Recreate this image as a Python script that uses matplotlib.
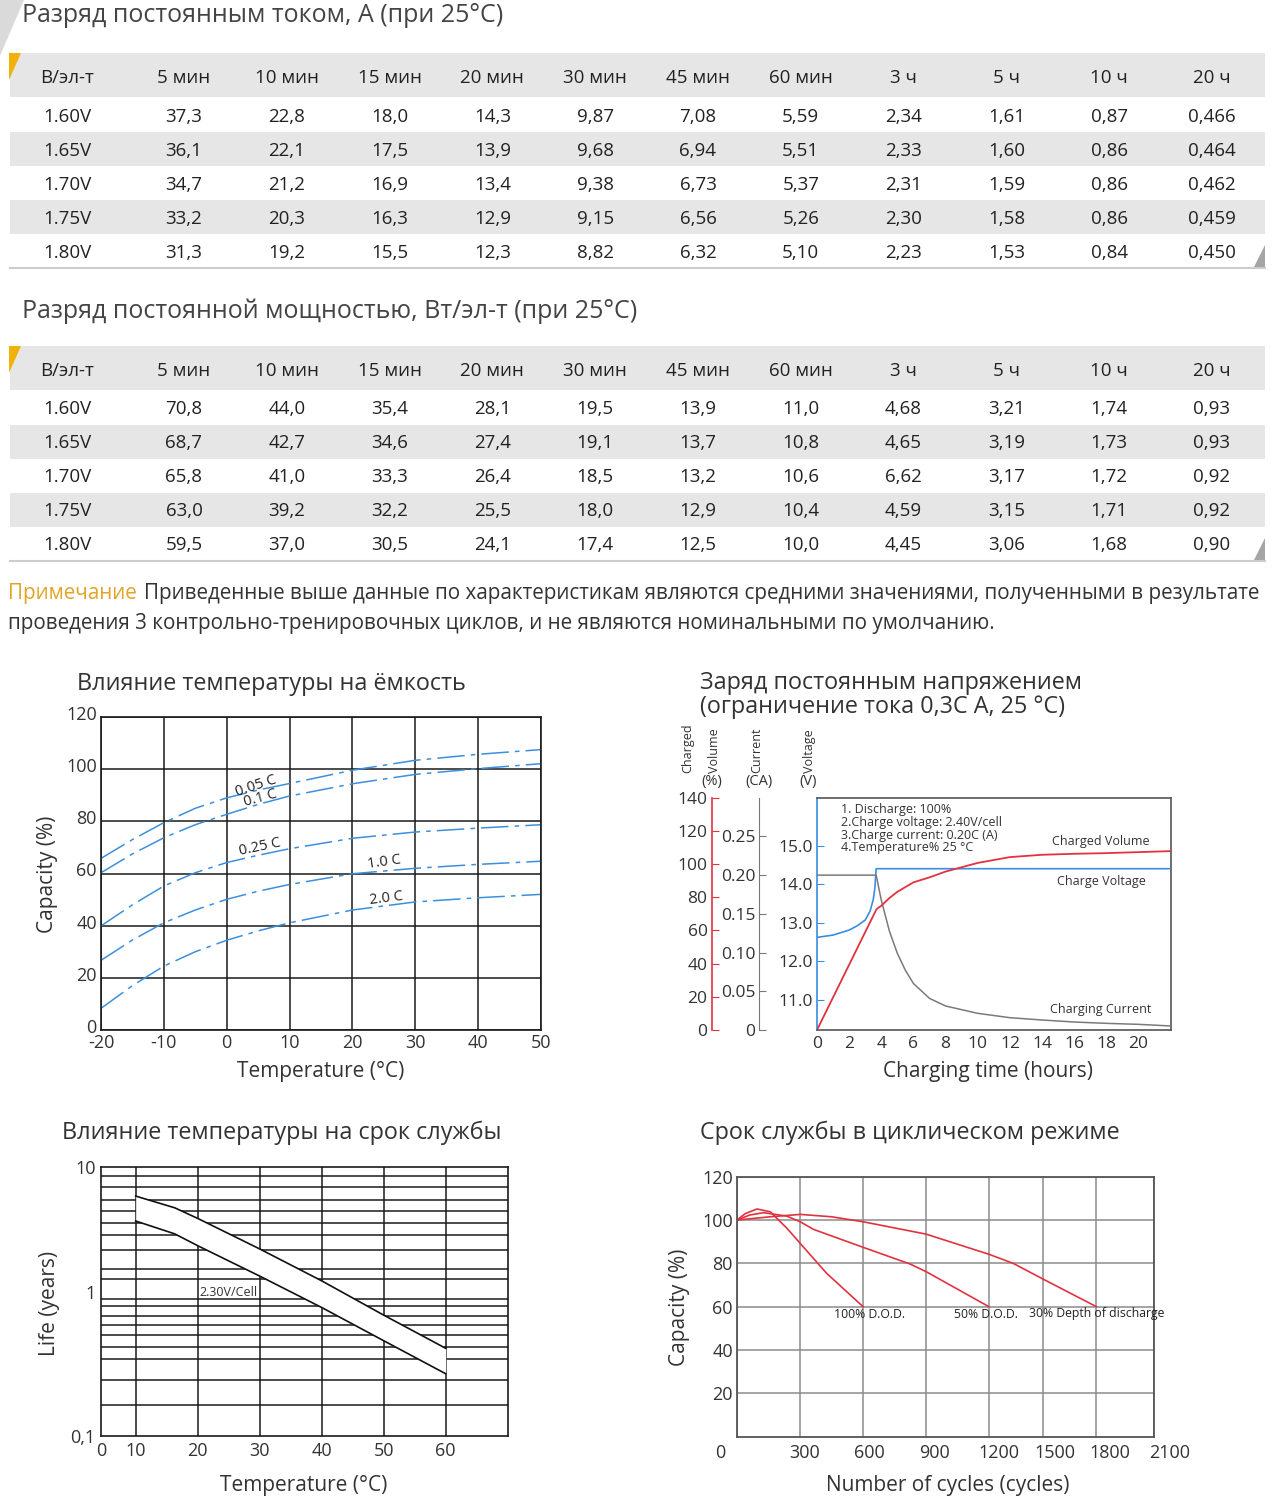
import matplotlib
matplotlib.use('Agg')
import matplotlib.pyplot as plt
import matplotlib.transforms as mtransforms
from matplotlib.patches import Rectangle, Polygon
import numpy as np

plt.rcParams['font.family'] = ['Open Sans', 'DejaVu Sans']
plt.rcParams['axes.unicode_minus'] = False

W, H = 1280, 1511

# ---------------- data ----------------
columns = ['В/эл-т', '5 мин', '10 мин', '15 мин', '20 мин', '30 мин', '45 мин',
           '60 мин', '3 ч', '5 ч', '10 ч', '20 ч']
voltages = ['1.60V', '1.65V', '1.70V', '1.75V', '1.80V']

current_rows = [
    ['37,3', '22,8', '18,0', '14,3', '9,87', '7,08', '5,59', '2,34', '1,61', '0,87', '0,466'],
    ['36,1', '22,1', '17,5', '13,9', '9,68', '6,94', '5,51', '2,33', '1,60', '0,86', '0,464'],
    ['34,7', '21,2', '16,9', '13,4', '9,38', '6,73', '5,37', '2,31', '1,59', '0,86', '0,462'],
    ['33,2', '20,3', '16,3', '12,9', '9,15', '6,56', '5,26', '2,30', '1,58', '0,86', '0,459'],
    ['31,3', '19,2', '15,5', '12,3', '8,82', '6,32', '5,10', '2,23', '1,53', '0,84', '0,450'],
]
power_rows = [
    ['70,8', '44,0', '35,4', '28,1', '19,5', '13,9', '11,0', '4,68', '3,21', '1,74', '0,93'],
    ['68,7', '42,7', '34,6', '27,4', '19,1', '13,7', '10,8', '4,65', '3,19', '1,73', '0,93'],
    ['65,8', '41,0', '33,3', '26,4', '18,5', '13,2', '10,6', '6,62', '3,17', '1,72', '0,92'],
    ['63,0', '39,2', '32,2', '25,5', '18,0', '12,9', '10,4', '4,59', '3,15', '1,71', '0,92'],
    ['59,5', '37,0', '30,5', '24,1', '17,4', '12,5', '10,0', '4,45', '3,06', '1,68', '0,90'],
]

# capacity vs temperature
temp = [-20, -15, -10, -5, 0, 5, 10, 20, 30, 40, 50]
cap_rates = ['0.05 C', '0.1 C', '0.25 C', '1.0 C', '2.0 C']
cap_005 = [65.8, 73.0, 79.5, 85.0, 89.0, 92.0, 94.5, 99.6, 103.4, 105.7, 107.5]
cap_01 = [60.3, 67.5, 73.7, 78.7, 82.7, 86.5, 89.7, 94.4, 98.0, 100.2, 102.1]
cap_025 = [39.9, 48.0, 55.2, 60.3, 64.2, 67.0, 69.5, 73.5, 75.9, 77.4, 78.7]
cap_10 = [26.7, 34.5, 41.1, 46.0, 50.1, 53.2, 55.8, 59.9, 62.0, 63.5, 64.7]
cap_20 = [8.3, 17.0, 24.5, 30.0, 34.4, 38.0, 41.1, 46.0, 49.1, 50.7, 52.0]

# constant voltage charge
volt_t = [0, 1, 2, 2.5, 3, 3.3, 3.5, 3.6, 3.68, 22]
volt_v = [12.62, 12.68, 12.81, 12.92, 13.07, 13.3, 13.6, 13.9, 14.4, 14.4]
cur_t = [0, 3.68, 4.0, 4.5, 5, 5.5, 6, 7, 8, 10, 12, 14, 16, 18, 20, 22]
cur_a = [0.2, 0.2, 0.1675, 0.128, 0.0988, 0.077, 0.060, 0.0408, 0.031, 0.0215,
         0.0159, 0.0129, 0.0103, 0.0086, 0.0073, 0.0052]
vol_t = [0, 3.7, 4, 4.5, 5, 6, 7, 8, 9, 10, 12, 14, 16, 18, 20, 22]
vol_p = [0, 72.8, 74.9, 79.5, 83.3, 89.0, 92.0, 95.5, 98.1, 100.7, 104.2, 105.6,
         106.2, 106.6, 107.2, 107.8]
charge_notes = ['1. Discharge: 100%', '2.Charge voltage: 2.40V/cell',
                '3.Charge current: 0.20C (A)', '4.Temperature% 25 °C']

# life vs temperature
life_t = [10, 16.3, 20, 30, 40, 50, 60]
life_hi = [6.05, 4.95, 4.13, 2.45, 1.42, 0.79, 0.448]
life_lo = [3.95, 3.17, 2.59, 1.54, 0.90, 0.51, 0.29]
life_grid = [8.5, 7.1, 5.7, 4.7, 3.8, 3.1, 2.4, 1.74, 1.46, 1.04, 0.92, 0.78,
             0.67, 0.56, 0.46, 0.37, 0.26, 0.17]

# cycle life
dod100_n = [0, 40, 95, 158, 237, 300, 426, 600]
dod100_c = [100, 103.0, 105.1, 103.8, 96.2, 89.2, 75.4, 60]
dod50_n = [0, 60, 126, 237, 300, 363, 600, 824, 900, 1200]
dod50_c = [100, 102.3, 103.4, 101.8, 99.2, 95.7, 87.4, 79.7, 76.2, 60]
dod30_n = [0, 158, 300, 450, 600, 900, 1200, 1335, 1500, 1800]
dod30_c = [100, 101.5, 102.6, 101.5, 99.2, 93.5, 84.2, 80.0, 72.8, 60]

# ---------------- figure ----------------
fig = plt.figure(figsize=(W / 100, H / 100), dpi=100)
ax0 = fig.add_axes([0, 0, 1, 1])
ax0.set_xlim(0, W)
ax0.set_ylim(H, 0)
ax0.axis('off')

DARK = '#333333'
GOLD = '#f0b208'
TITLE_FS = 16.8
LABEL_FS = 15


def add_ax(l, t, r, b):
    return fig.add_axes([l / W, 1 - b / H, (r - l) / W, (b - t) / H])


def shift(lab, dx=0, dy=0):
    lab.set_transform(lab.get_transform() +
                      mtransforms.ScaledTranslation(dx / 100, dy / 100, fig.dpi_scale_trans))


# top-left decoration
ax0.add_patch(Polygon([(0, 0), (24, 0), (0, 56)], color='#dadada', lw=0))

col_x = [67] + [184 + 102.8 * i for i in range(11)]


def draw_table(title, title_y, band_top, rows):
    ax0.text(22, title_y, title, fontsize=18, color='#444444', va='center', ha='left')
    ax0.add_patch(Rectangle((10, band_top), 1255, 44, color='#e6e6e6', lw=0))
    ax0.add_patch(Polygon([(9, band_top), (21, band_top), (9, band_top + 27)], color=GOLD, lw=0))
    for j, c in enumerate(columns):
        ax0.text(col_x[j], band_top + 25, c, fontsize=13.5, color='#222222', ha='center', va='center')
    for i, (v, vals) in enumerate(zip(voltages, rows)):
        y = band_top + 62 + 34 * i
        if i % 2 == 1:
            ax0.add_patch(Rectangle((10, y - 17), 1255, 34, color='#e6e6e6', lw=0))
        ax0.text(col_x[0], y + 1.5, v, fontsize=13.5, color='#222222', ha='center', va='center')
        for j, s in enumerate(vals):
            ax0.text(col_x[j + 1], y + 1.5, s, fontsize=13.5, color='#222222', ha='center', va='center')
    bottom = band_top + 215
    ax0.plot([10, 1265], [bottom, bottom], color='#cccccc', lw=1.5)
    ax0.add_patch(Polygon([(1254, bottom - 1), (1265, bottom - 1), (1265, bottom - 23)],
                          color='#a5a5a5', lw=0))


draw_table('Разряд постоянным током, А (при 25°C)', 16, 53, current_rows)
draw_table('Разряд постоянной мощностью, Вт/эл-т (при 25°C)', 311, 346, power_rows)

# note
t1 = ax0.text(8, 594, 'Примечание', fontsize=14.9, color='#e0a526', va='center', ha='left')
fig.canvas.draw()
bb = t1.get_window_extent()
ax0.text(8 + bb.width + 7, 594,
         'Приведенные выше данные по характеристикам являются средними значениями, '
         'полученными в результате', fontsize=14.9, color=DARK, va='center', ha='left')
ax0.text(8, 624, 'проведения 3 контрольно-тренировочных циклов, и не являются номинальными '
         'по умолчанию.', fontsize=14.9, color=DARK, va='center', ha='left')

# ---------------- chart 1: capacity vs temperature ----------------
ax0.text(77, 684, 'Влияние температуры на ёмкость', fontsize=TITLE_FS, color=DARK, va='center')
ax1 = add_ax(101, 717, 541, 1030)
ax1.set_xlim(-20, 50)
ax1.set_ylim(0, 120)
ax1.set_xticks(range(-20, 51, 10))
ax1.set_yticks(range(0, 121, 20))
ax1.grid(True, color='#1a1a1a', lw=1.1)
ax1.set_axisbelow(True)
for s in ax1.spines.values():
    s.set_color('#1a1a1a')
    s.set_linewidth(1.2)
ax1.tick_params(length=0, labelsize=13, labelcolor=DARK, pad=3)
for lab in ax1.get_yticklabels():
    shift(lab, dy=4)
BLUE = '#3c8fdc'
for series in [cap_005, cap_01, cap_025, cap_10, cap_20]:
    ax1.plot(temp, series, color=BLUE, lw=1.1, dashes=(18, 4, 3, 4))
cap_label_pos = [(4.7, 93.5, 18), (5.3, 89.0, 15), (5.3, 70.0, 12), (25.1, 64.2, 8), (25.4, 50.4, 7)]
for name, (lx, ly, rot) in zip(cap_rates, cap_label_pos):
    ax1.text(lx, ly, name, fontsize=10.5, color='#222222', ha='center', va='center',
             rotation=rot, rotation_mode='anchor')
ax0.text(48, 874, 'Capacity (%)', fontsize=LABEL_FS, color=DARK, rotation=90, ha='center', va='center')
ax0.text(321, 1071, 'Temperature (°C)', fontsize=LABEL_FS, color=DARK, ha='center', va='center')

# ---------------- chart 2: constant voltage charge ----------------
ax0.text(700, 683, 'Заряд постоянным напряжением', fontsize=TITLE_FS, color=DARK, va='center')
ax0.text(700, 707, '(ограничение тока 0,3C А, 25 °C)', fontsize=TITLE_FS, color=DARK, va='center')
ax2 = add_ax(817, 797.7, 1170.7, 1030)
ax2.set_xlim(0, 22)
ax2.set_ylim(10.22, 16.24)
ax2.set_xticks(range(0, 21, 2))
ax2.set_yticks([11, 12, 13, 14, 15])
ax2.set_yticklabels(['11.0', '12.0', '13.0', '14.0', '15.0'])
VBLUE = '#3a8ee0'
RED = '#e2323f'
for k in ['top', 'right', 'bottom']:
    ax2.spines[k].set_color('#555555')
    ax2.spines[k].set_linewidth(1.2)
ax2.spines['left'].set_color(VBLUE)
ax2.spines['left'].set_linewidth(1.2)
ax2.tick_params(axis='x', length=0, labelsize=12.5, labelcolor=DARK, pad=4)
ax2.tick_params(axis='y', direction='in', length=5, color=VBLUE, labelsize=12.5,
                labelcolor=DARK, pad=3)
ax2.plot(volt_t, volt_v, color=VBLUE, lw=1.2, zorder=4)

ax_cur = ax2.twinx()
ax_cur.set_ylim(0, 0.3)
ax_cur.plot(cur_t, cur_a, color='#7a7a7a', lw=1.1, zorder=3)
for k in ['top', 'right', 'bottom']:
    ax_cur.spines[k].set_visible(False)
ax_cur.spines['left'].set_visible(True)
ax_cur.spines['left'].set_position(('outward', (817 - 759.3) * 0.72))
ax_cur.spines['left'].set_color('#777777')
ax_cur.yaxis.set_ticks_position('left')
ax_cur.set_yticks([0, 0.05, 0.10, 0.15, 0.20, 0.25])
ax_cur.set_yticklabels(['0', '0.05', '0.10', '0.15', '0.20', '0.25'])
ax_cur.tick_params(axis='y', direction='in', length=5, color='#777777', labelsize=12.5,
                   labelcolor=DARK, pad=3)

ax_vol = ax2.twinx()
ax_vol.set_ylim(0, 140)
ax_vol.plot(vol_t, vol_p, color=RED, lw=1.3, zorder=5)
for k in ['top', 'right', 'bottom']:
    ax_vol.spines[k].set_visible(False)
ax_vol.spines['left'].set_visible(True)
ax_vol.spines['left'].set_position(('outward', (817 - 711.7) * 0.72))
ax_vol.spines['left'].set_color(RED)
ax_vol.spines['left'].set_linewidth(1.2)
ax_vol.yaxis.set_ticks_position('left')
ax_vol.set_yticks(range(0, 141, 20))
ax_vol.tick_params(axis='y', direction='in', length=5, color=RED, labelsize=12.5,
                   labelcolor=DARK, pad=3)

px = ax0.transData
for i, s in enumerate(charge_notes):
    ax_vol.text(841, 810 + 12.5 * i, s, fontsize=9, color=DARK, va='center', ha='left',
                transform=px)
ax_vol.text(1101, 841, 'Charged Volume', fontsize=9, color=DARK, ha='center', va='center', transform=px)
ax_vol.text(1101, 882, 'Charge Voltage', fontsize=9, color=DARK, ha='center', va='center', transform=px)
ax_vol.text(1101, 1009, 'Charging Current', fontsize=9, color=DARK, ha='center', va='center', transform=px)
ax0.text(688, 773, 'Charged', fontsize=9, color=DARK, rotation=90, ha='center', va='bottom')
ax0.text(714, 773, 'Volume', fontsize=9, color=DARK, rotation=90, ha='center', va='bottom')
ax0.text(712, 782, '(%)', fontsize=10.5, color=DARK, ha='center', va='center')
ax0.text(757, 773, 'Current', fontsize=9, color=DARK, rotation=90, ha='center', va='bottom')
ax0.text(759, 782, '(CA)', fontsize=10.5, color=DARK, ha='center', va='center')
ax0.text(810, 773, 'Voltage', fontsize=9, color=DARK, rotation=90, ha='center', va='bottom')
ax0.text(808, 782, '(V)', fontsize=10.5, color=DARK, ha='center', va='center')
ax0.text(988, 1071, 'Charging time (hours)', fontsize=LABEL_FS, color=DARK, ha='center', va='center')

# ---------------- chart 3: life vs temperature ----------------
ax0.text(62, 1133, 'Влияние температуры на срок службы', fontsize=TITLE_FS, color=DARK, va='center')
ax3 = add_ax(101, 1166.7, 507.7, 1436)


def life_fwd(x):
    x = np.asarray(x, dtype=float)
    return np.where(x < 10, x * 0.056, x / 10 - 0.44)


def life_inv(y):
    y = np.asarray(y, dtype=float)
    return np.where(y < 0.56, y / 0.056, (y + 0.44) * 10)


ax3.set_xscale('function', functions=(life_fwd, life_inv))
ax3.set_yscale('log')
ax3.set_xlim(0, 70)
ax3.set_ylim(0.1, 10)
ax3.set_xticks(range(0, 61, 10))
ax3.set_xticklabels([str(v) for v in range(0, 61, 10)])
ax3.set_yticks([0.1, 1, 10])
ax3.set_yticklabels(['0,1', '1', '10'])
ax3.minorticks_off()
ax3.tick_params(length=0, labelsize=13, labelcolor=DARK, pad=4)
shift(ax3.get_yticklabels()[1], dy=9)
for g in life_grid:
    ax3.axhline(g, color='#1a1a1a', lw=1.1, zorder=1)
for v in range(10, 61, 10):
    ax3.axvline(v, color='#1a1a1a', lw=1.1, zorder=1)
for s in ax3.spines.values():
    s.set_color('#1a1a1a')
    s.set_linewidth(1.2)
ax3.fill_between(life_t, life_lo, life_hi, color='white', lw=0, zorder=3)
ax3.plot(life_t, life_hi, color='#111111', lw=1.2, zorder=4)
ax3.plot(life_t, life_lo, color='#111111', lw=1.2, zorder=4)
ax3.text(20.3, 1.16, '2.30V/Cell', fontsize=9, color=DARK, va='center', ha='left', zorder=5)
ax0.text(50, 1303, 'Life (years)', fontsize=LABEL_FS, color=DARK, rotation=90, ha='center', va='center')
ax0.text(304, 1485, 'Temperature (°C)', fontsize=LABEL_FS, color=DARK, ha='center', va='center')

# ---------------- chart 4: cycle life ----------------
ax0.text(700, 1133, 'Срок службы в циклическом режиме', fontsize=TITLE_FS, color=DARK, va='center')
ax4 = add_ax(737, 1176.7, 1154, 1436.7)
cyc_ticks = [0, 300, 600, 900, 1200, 1500, 1800, 2100]
cyc_pos = [0, 190, 379, 568, 757, 919, 1080, 1253]


def cyc_fwd(x):
    return np.interp(x, cyc_ticks, cyc_pos)


def cyc_inv(p):
    return np.interp(p, cyc_pos, cyc_ticks)


ax4.set_xscale('function', functions=(cyc_fwd, cyc_inv))
ax4.set_xlim(0, 2100)
ax4.set_ylim(0, 120)
ax4.set_xticks(cyc_ticks)
ax4.set_xticklabels([str(v) for v in cyc_ticks])
ax4.set_yticks(range(20, 121, 20))
ax4.minorticks_off()
ax4.grid(True, color='#8c8c8c', lw=1.1)
ax4.set_axisbelow(True)
for s in ax4.spines.values():
    s.set_color('#555555')
    s.set_linewidth(1.3)
ax4.tick_params(axis='x', length=0, labelsize=13, labelcolor=DARK, pad=5)
ax4.tick_params(axis='y', length=0, labelsize=13, labelcolor=DARK, pad=3)
for lab, dx in zip(ax4.get_xticklabels(), [-17, 4, 6, 8, 10, 12, 13, 16]):
    shift(lab, dx=dx)
ax4.plot(dod100_n, dod100_c, color=RED, lw=1.2)
ax4.plot(dod50_n, dod50_c, color=RED, lw=1.2)
ax4.plot(dod30_n, dod30_c, color=RED, lw=1.2)
ax4.text(870, 1314, '100% D.O.D.', fontsize=8.8, color='#222222', ha='center', va='center', transform=px)
ax4.text(986, 1314, '50% D.O.D.', fontsize=8.8, color='#222222', ha='center', va='center', transform=px)
ax4.text(1097, 1314, '30% Depth of discharge', fontsize=8.8, color='#222222', ha='center', va='center',
         transform=px)
ax0.text(680, 1307, 'Capacity (%)', fontsize=LABEL_FS, color=DARK, rotation=90, ha='center', va='center')
ax0.text(948, 1485, 'Number of cycles (cycles)', fontsize=LABEL_FS, color=DARK, ha='center', va='center')

fig.savefig('out.png', dpi=100)
